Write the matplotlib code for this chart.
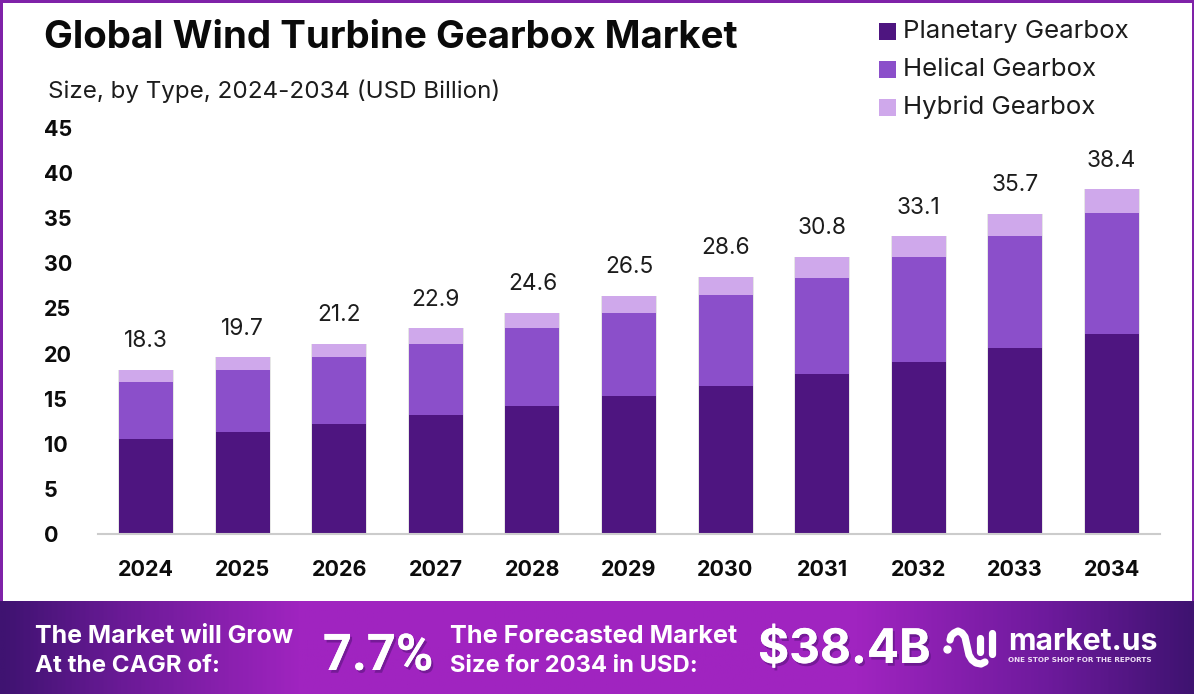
"""Global wind turbine gearbox market, stacked bars with the market.us footer band."""

import matplotlib
matplotlib.use("Agg")
import matplotlib.patheffects as pe
import matplotlib.pyplot as plt
import numpy as np
from matplotlib.colors import LinearSegmentedColormap
from matplotlib.patches import Rectangle

FONT = "Inter"
W, H = 1194, 694

years = ["2024", "2025", "2026", "2027", "2028", "2029", "2030", "2031", "2032", "2033", "2034"]
planetary = [10.5, 11.3, 12.2, 13.2, 14.2, 15.3, 16.4, 17.7, 19.1, 20.6, 22.2]
helical = [6.4, 6.9, 7.4, 7.9, 8.6, 9.2, 10.1, 10.7, 11.6, 12.4, 13.4]
hybrid = [1.3, 1.4, 1.5, 1.7, 1.7, 1.9, 2.0, 2.3, 2.3, 2.5, 2.6]
totals = ["18.3", "19.7", "21.2", "22.9", "24.6", "26.5", "28.6", "30.8", "33.1", "35.7", "38.4"]
y_ticks = [0, 5, 10, 15, 20, 25, 30, 35, 40, 45]

series_names = ["Planetary Gearbox", "Helical Gearbox", "Hybrid Gearbox"]
series_colors = ["#4e1580", "#8b4fca", "#cfa8eb"]


def px_axes(fig):
    """Full-figure overlay addressed in image pixels."""
    ax = fig.add_axes([0, 0, 1, 1], zorder=3)
    ax.set_xlim(0, W)
    ax.set_ylim(H, 0)
    ax.axis("off")
    ax.patch.set_alpha(0)
    return ax


def shadow(alpha=0.35):
    return [pe.withSimplePatchShadow(offset=(1.5, -2), shadow_rgbFace="#2a0a50", alpha=alpha), pe.Normal()]


plt.rcParams["font.family"] = [FONT, "DejaVu Sans"]
fig = plt.figure(figsize=(W / 100, H / 100), dpi=100, facecolor="white")

# chart area
left, right, top, bottom = 98, 1160, 128, 534
ax = fig.add_axes([left / W, 1 - bottom / H, (right - left) / W, (bottom - top) / H])
x = np.arange(len(years))
bar_w = 0.56
stack_top = np.array(planetary) + np.array(helical) + np.array(hybrid)

# soft halo around each stack
ax.bar(x, stack_top, bar_w + 0.02, color="#777777", alpha=0.18, linewidth=0, zorder=1)

bottoms = np.zeros(len(years))
for vals, color in zip([planetary, helical, hybrid], series_colors):
    ax.bar(x, vals, bar_w, bottom=bottoms, color=color, linewidth=0, zorder=2)
    bottoms = bottoms + np.array(vals)

for xi, top_val, label in zip(x, stack_top, totals):
    ax.text(xi, top_val + 2.5, label, ha="center", va="baseline", fontsize=16.4, color="#1c1c1c")

ax.set_xlim(-0.5, 10.5)
ax.set_ylim(0, 45)
ax.set_xticks(x, years)
ax.set_yticks(y_ticks)
for side in ["top", "right", "left"]:
    ax.spines[side].set_visible(False)
ax.spines["bottom"].set_color("#cccccc")
ax.spines["bottom"].set_linewidth(1.5)
ax.tick_params(axis="both", length=0)
ax.tick_params(axis="x", pad=19)
ax.tick_params(axis="y", pad=39)
for lab in ax.get_xticklabels():
    lab.set(fontsize=15.5, fontweight="bold", color="#0c0c0c")
for lab in ax.get_yticklabels():
    lab.set(fontsize=15.5, fontweight="bold", color="#0c0c0c", ha="left")

over = px_axes(fig)

# frame around the chart, stops at the footer band
for rect in [(0, 0, W, 2.5), (0, 0, 2.5, 601), (W - 2.5, 0, 2.5, 601)]:
    over.add_patch(Rectangle(rect[:2], rect[2], rect[3], color="#7f22a8", lw=0))

over.text(44, 48, "Global Wind Turbine Gearbox Market", fontsize=27.7, fontweight="bold",
          color="#0a0a0a", va="baseline", ha="left")
over.text(48, 98, "Size, by Type, 2024-2034 (USD Billion)", fontsize=17.4, color="#1c1c1c",
          va="baseline", ha="left")

# legend
for i, (name, color) in enumerate(zip(series_names, series_colors)):
    over.add_patch(Rectangle((879, 22.5 + i * 38.2), 17, 17, color=color, lw=0))
    over.text(903, 38 + i * 38, name, fontsize=18.6, color="#1c1c1c", va="baseline", ha="left")

# footer band
band = LinearSegmentedColormap.from_list(
    "band", [(0, "#3f1371"), (0.1, "#6a1a96"), (0.25, "#a024c0"), (0.72, "#a024c0"),
             (0.88, "#6d1a9c"), (1, "#3f1371")])
over.imshow(np.linspace(0, 1, 600)[None, :], extent=(0, W, 694, 601), cmap=band, aspect="auto", zorder=0)
over.set_xlim(0, W)
over.set_ylim(H, 0)

for xt, yt, txt, size in [(35, 643, "The Market will Grow", 18.0), (35, 672, "At the CAGR of:", 17.4),
                          (450, 643, "The Forecasted Market", 18.2), (450, 672, "Size for 2034 in USD:", 17.1)]:
    over.text(xt, yt, txt, fontsize=size, fontweight="bold", color="white", va="baseline", ha="left")
over.text(323, 670, "7.7%", fontsize=36.5, fontweight="bold", family="Roboto", color="white",
          va="baseline", ha="left", path_effects=shadow())
over.text(758, 663, "$38.4B", fontsize=34.3, fontweight="bold", color="white", va="baseline", ha="left",
          path_effects=shadow())

# market.us logo
logo = dict(color="white", lw=5.2, solid_capstyle="round", solid_joinstyle="round")
over.plot([950, 951, 954, 958, 962, 965, 967, 969, 972, 976, 981, 985],
          [640, 636, 633, 631, 633, 637, 646, 655, 660, 663, 664, 662], **logo)
over.plot([980, 980], [638, 652], **logo)
over.plot([992, 992], [633, 654], **logo)
over.plot([947], [649], "o", color="white", ms=5)
over.text(1008, 650, "market.us", fontsize=21.7, fontweight="bold", color="white", va="baseline", ha="left")
over.text(1008, 662, "ONE STOP SHOP FOR THE REPORTS", fontsize=5.2, fontweight="bold",
          family="DejaVu Sans", color="#eeddf5", va="baseline", ha="left")

fig.savefig("out.png", dpi=100)
